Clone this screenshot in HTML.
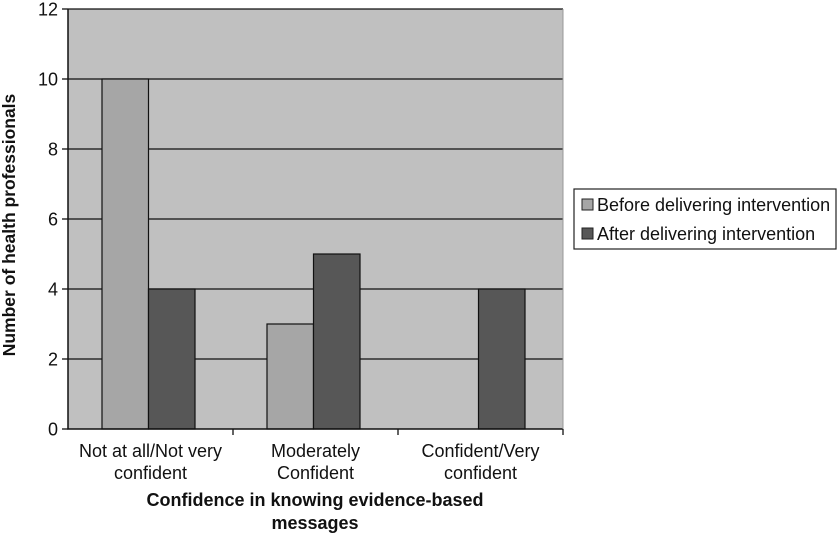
<!DOCTYPE html>
<html><head><meta charset="utf-8"><style>
body{margin:0;background:#fff;}
svg{display:block;font-family:"Liberation Sans",sans-serif;}
</style></head><body>
<svg id="c" width="838" height="535">
<rect x="68" y="9" width="495" height="420" fill="#c0c0c0"/>
<g id="grid"></g><g id="bars"></g><g id="axes"></g>
<text transform="translate(15,225) rotate(-90)" text-anchor="middle" font-size="17.5" font-weight="bold" fill="#111">Number of health professionals</text>
<text x="315" y="506" text-anchor="middle" font-size="18" font-weight="bold" fill="#111">Confidence in knowing evidence-based</text>
<text x="315" y="529" text-anchor="middle" font-size="18" font-weight="bold" fill="#111">messages</text>
<g>
<rect x="574" y="189" width="262" height="60" fill="#fff" stroke="#222" stroke-width="1.2"/>
<rect x="582" y="199" width="11" height="11" fill="#a6a6a6" stroke="#222"/>
<text x="597" y="211" font-size="18" fill="#111">Before delivering intervention</text>
<rect x="582" y="228" width="11" height="11" fill="#575757" stroke="#222"/>
<text x="597" y="240" font-size="18" fill="#111">After delivering intervention</text>
</g>
</svg>
<script>
const categories=[["Not at all/Not very","confident"],["Moderately","Confident"],["Confident/Very","confident"]];
const before=[10,3,0];
const after=[4,5,4];
const yTicks=[0,2,4,6,8,10,12];
const NS="http://www.w3.org/2000/svg";
const x0=68,w=495,y0=429,ymax=12,h=420;
const y=v=>y0-v/ymax*h;
const gw=w/categories.length;
function mk(t,a,p){const e=document.createElementNS(NS,t);for(const k in a)e.setAttribute(k,a[k]);p.appendChild(e);return e;}
const grid=document.getElementById('grid'),bars=document.getElementById('bars'),axes=document.getElementById('axes');
yTicks.forEach(v=>{
 if(v>0){const l=mk('line',{x1:x0,x2:x0+w,y1:y(v),y2:y(v),stroke:'#111','stroke-width':1.3},grid);
 
 }
 const tk=mk('line',{x1:x0-6,x2:x0,y1:y(v),y2:y(v),stroke:'#111','stroke-width':1.3},axes);
 
 
 const t=mk('text',{x:x0-10,y:y(v)+6.5,'text-anchor':'end','font-size':18,fill:'#111'},axes);t.textContent=v;
 
 
});
const bw=46.5;
categories.forEach((c,i)=>{
 const cx=x0+gw*(i+0.5)-2;
 [[before[i],'#a6a6a6',cx-bw],[after[i],'#575757',cx]].forEach((d,j)=>{
  if(d[0]<=0)return;
  const r=mk('rect',{x:d[2],y:y(d[0]),width:bw,height:y0-y(d[0]),fill:d[1],stroke:'#111','stroke-width':1.2},bars);
  
  
 });
 const tk=mk('line',{x1:x0+gw*(i+1),x2:x0+gw*(i+1),y1:y0,y2:y0+6,stroke:'#111','stroke-width':1.3},axes);
 
 
 c.forEach((s,k)=>{const t=mk('text',{x:cx+2,y:457+k*22,'text-anchor':'middle','font-size':18,fill:'#111'},axes);t.textContent=s;
 
 });
});
const ax=mk('path',{d:`M${x0} 9V${y0}H${x0+w}`,fill:'none',stroke:'#111','stroke-width':1.5},axes);


mk('line',{x1:x0+w,x2:x0+w,y1:9,y2:y0,stroke:'#999','stroke-width':1},axes);
</script>
</body></html>
